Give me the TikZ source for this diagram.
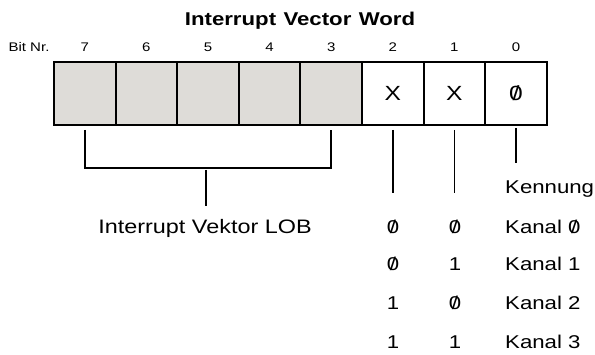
\documentclass[tikz,border=0pt]{standalone}
\usepackage{fontspec}
\setmainfont{Liberation Sans}[FakeStretch=1.2]
\newcommand{\zs}{\ooalign{0\cr\hidewidth/\hidewidth\cr}}
\definecolor{cellgray}{RGB}{222,220,216}
\tikzset{
  cell/.style={draw, line width=2pt, minimum width=61.6pt, minimum height=63.5pt, inner sep=0pt, outer sep=0pt, font=\fontsize{20.5}{22}\selectfont},
  graycell/.style={cell, fill=cellgray},
  bitnum/.style={font=\fontsize{12.5}{14}\selectfont, inner sep=0pt},
  lbl/.style={font=\fontsize{18.5}{20}\selectfont, inner sep=0pt},
  wire/.style={line width=1.8pt}
}
\begin{document}
\begin{tikzpicture}[x=1pt,y=-1pt]
\useasboundingbox (0,0) rectangle (595,355);
% title
\node[font=\fontsize{18.5}{20}\bfseries\selectfont, inner sep=0pt] (title) at (300,21) {Interrupt\hspace{0.4em}Vector\hspace{0.4em}Word};
% bit numbers
\node[bitnum] (bitnr) at (29,47) {Bit Nr.};
\foreach \b in {7,...,0}{
  \node[bitnum] (b\b) at ({54+61.6*(7-\b)+30.8},47) {\b};
}
% cells
\node[graycell] (c7) at (84.8,93.5) {};
\node[graycell] (c6) at (146.4,93.5) {};
\node[graycell] (c5) at (208.0,93.5) {};
\node[graycell] (c4) at (269.6,93.5) {};
\node[graycell] (c3) at (331.2,93.5) {};
\node[cell] (c2) at (392.8,93.5) {X};
\node[cell] (c1) at (454.4,93.5) {X};
\node[cell] (c0) at (516.0,93.5) {\zs};
% bracket
\coordinate (bl1) at (84.8,130);
\coordinate (bl2) at (84.8,168);
\coordinate (br1) at (331.2,130);
\coordinate (br2) at (331.2,168);
\coordinate (bt1) at (206,170);
\coordinate (bt2) at (206,206);
\draw[wire] (bl1) -- (bl2) -- (br2) -- (br1);
\draw[wire] (bt1) -- (bt2);
\node[lbl, font=\fontsize{19.5}{21}\selectfont] (lob) at (205,228) {Interrupt Vektor LOB};
% bit lines
\coordinate (l2a) at (392.8,130);
\coordinate (l2b) at (392.8,193);
\coordinate (l1a) at (454.4,130);
\coordinate (l1b) at (454.4,193);
\coordinate (l0a) at (516,128);
\coordinate (l0b) at (516,163);
\draw[wire] (l2a) -- (l2b);
\draw[wire] (l1a) -- (l1b);
\draw[wire] (l0a) -- (l0b);
% table
\node[lbl, anchor=west] (kenn) at (505,189) {Kennung};
\node[lbl] (r0a) at (393,227) {\zs};
\node[lbl] (r0b) at (455,227) {\zs};
\node[lbl, anchor=west] (k0) at (505,227) {Kanal \zs};
\node[lbl] (r1a) at (393,264) {\zs};
\node[lbl] (r1b) at (455,264) {1};
\node[lbl, anchor=west] (k1) at (505,264) {Kanal 1};
\node[lbl] (r2a) at (393,303) {1};
\node[lbl] (r2b) at (455,303) {\zs};
\node[lbl, anchor=west] (k2) at (505,303) {Kanal 2};
\node[lbl] (r3a) at (393,342) {1};
\node[lbl] (r3b) at (455,342) {1};
\node[lbl, anchor=west] (k3) at (505,342) {Kanal 3};
\end{tikzpicture}
\end{document}
